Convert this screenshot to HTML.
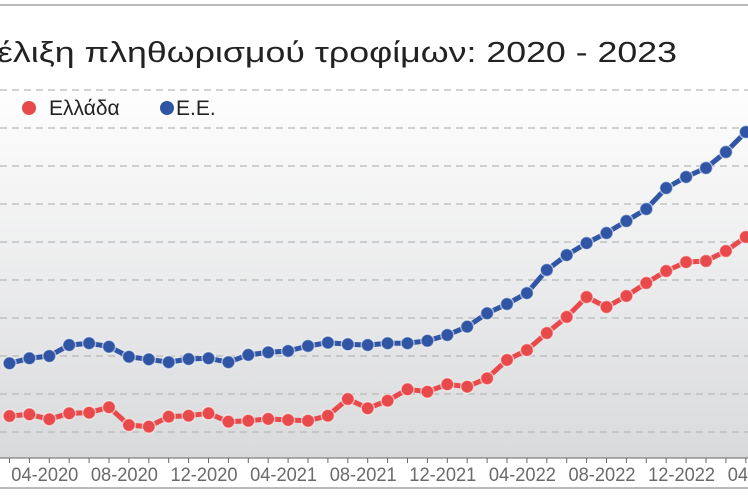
<!DOCTYPE html>
<html><head><meta charset="utf-8">
<style>
html,body{margin:0;padding:0;background:#fff;}
svg{display:block;}
text{font-family:"Liberation Sans Narrow","Liberation Sans","DejaVu Sans",sans-serif;}
</style></head>
<body>
<svg id="chart" width="748" height="498" viewBox="0 0 748 498">
<defs>
<linearGradient id="bg" x1="0" y1="0" x2="0" y2="1">
<stop offset="0" stop-color="#ffffff"/>
<stop offset="1" stop-color="#d9dadc"/>
</linearGradient>
</defs>
<rect x="0" y="0" width="748" height="498" fill="#fff"/>
<line x1="0" y1="5" x2="748" y2="5" stroke="#bbb" stroke-width="2"/>
<rect x="0" y="80" width="748" height="378" fill="url(#bg)"/>
<text x="-3" y="62" font-size="29" fill="#222" textLength="680" lengthAdjust="spacingAndGlyphs">έλιξη πληθωρισμού τροφίμων: 2020 - 2023</text>
<g id="grid"></g>
<g id="axis"></g>
<g id="series"></g>
<g>
<g>
<circle cx="29" cy="108" r="7" fill="#e8494b"/>
<text x="49" y="115" font-size="21" fill="#222">Ελλάδα</text>
</g>
<g>
<circle cx="167" cy="108" r="7" fill="#2f55a4"/>
<text x="176" y="115" font-size="21" fill="#222">Ε.Ε.</text>
</g>
</g>
<line x1="0" y1="488" x2="748" y2="488" stroke="#bbb" stroke-width="2"/>
</svg>
<script>
const months = ["02-2020","03-2020","04-2020","05-2020","06-2020","07-2020","08-2020","09-2020","10-2020","11-2020","12-2020","01-2021","02-2021","03-2021","04-2021","05-2021","06-2021","07-2021","08-2021","09-2021","10-2021","11-2021","12-2021","01-2022","02-2022","03-2022","04-2022","05-2022","06-2022","07-2022","08-2022","09-2022","10-2022","11-2022","12-2022","01-2023","02-2023","03-2023"];
const euValues = [4.52,4.85,5.0,5.72,5.84,5.61,4.95,4.78,4.59,4.8,4.85,4.59,5.07,5.24,5.33,5.66,5.88,5.77,5.72,5.84,5.84,6.0,6.38,6.93,7.81,8.42,9.14,10.66,11.64,12.43,13.09,13.88,14.67,16.05,16.78,17.37,18.42,19.74];
const greeceValues = [1.05,1.16,0.84,1.23,1.27,1.63,0.46,0.35,1.01,1.07,1.23,0.68,0.74,0.86,0.79,0.74,1.07,2.17,1.56,2.06,2.81,2.65,3.14,2.98,3.53,4.74,5.39,6.51,7.57,8.88,8.22,8.95,9.8,10.59,11.18,11.25,11.91,12.83];
const tickLabels = ["04-2020","08-2020","12-2020","04-2021","08-2021","12-2021","04-2022","08-2022","12-2022","04-2023"];
const gridValues = [0,2.5,5,7.5,10,12.5,15,17.5,20,22.5];

const NS = "http://www.w3.org/2000/svg";
function xScale(i){ return 9.5 + i*19.9; }
function yScale(v){ return 432 - v*15.2; }
function mk(tag, attrs, parent){
  const e = document.createElementNS(NS, tag);
  for (const k in attrs) e.setAttribute(k, attrs[k]);
  parent.appendChild(e);
  return e;
}
const grid = document.getElementById('grid');
gridValues.forEach(v => {
  const l = mk('line', {x1:0, x2:748, y1:yScale(v), y2:yScale(v), stroke:'#b8b8b8', 'stroke-width':1.3, 'stroke-dasharray':'7 5'}, grid);
  
  
});
const axis = document.getElementById('axis');
const base = mk('line', {x1:0, x2:748, y1:458, y2:458, stroke:'#666', 'stroke-width':1}, axis);


months.forEach((m, i) => {
  const t = mk('line', {x1:xScale(i), x2:xScale(i), y1:458, y2:463, stroke:'#666', 'stroke-width':1}, axis);
  
  
});
tickLabels.forEach((lab, k) => {
  const t = mk('text', {x:xScale(4*k+2)-4.5, y:481, 'font-size':19, fill:'#6a6a6a', 'text-anchor':'middle', textLength:67, lengthAdjust:'spacingAndGlyphs'}, axis);
  t.textContent = lab;
  
  
});
function drawSeries(vals, color, name){
  const g = mk('g', {}, document.getElementById('series'));
  
  
  const pts = vals.map((v,i) => xScale(i).toFixed(1) + ',' + yScale(v).toFixed(1)).join(' ');
  const pl = mk('polyline', {points:pts, fill:'none', stroke:color, 'stroke-width':5, 'stroke-linejoin':'round'}, g);
  
  
  vals.forEach((v,i) => {
    const c = mk('circle', {cx:xScale(i), cy:yScale(v), r:6.5, fill:color, stroke:'rgba(255,255,255,0.55)', 'stroke-width':1.5}, g);
    
    
  });
}
drawSeries(euValues, '#2f55a4', 'eu');
drawSeries(greeceValues, '#e8494b', 'greece');
</script>
</body></html>
